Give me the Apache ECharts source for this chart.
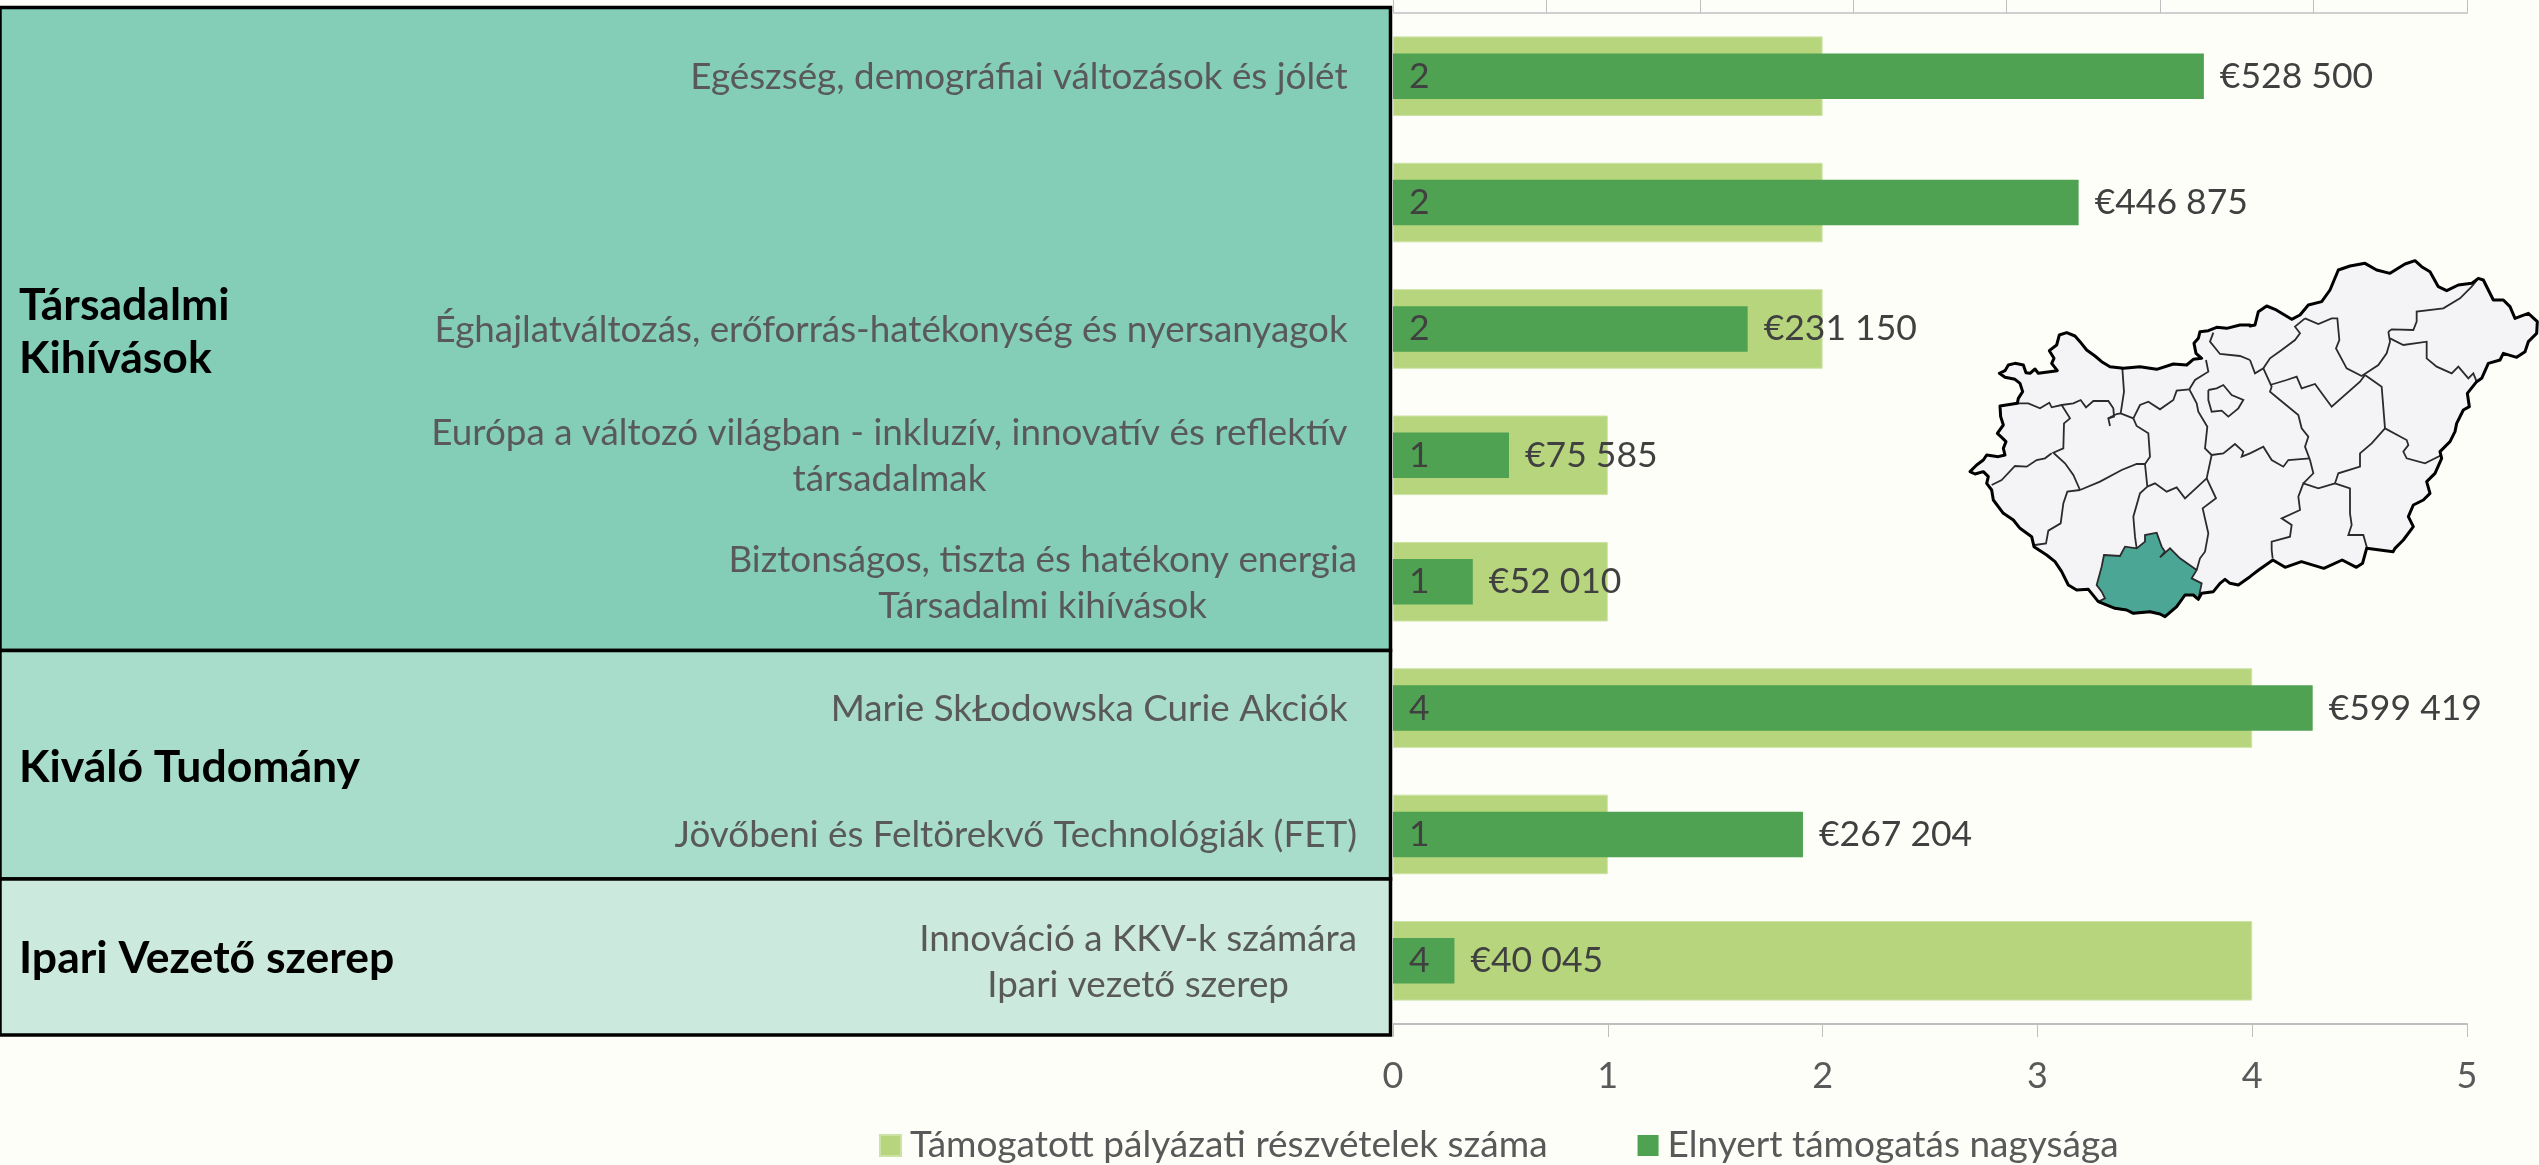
<!DOCTYPE html>
<html>
<head>
<meta charset="utf-8">
<title>Támogatott pályázati részvételek</title>
<script src="https://cdn.jsdelivr.net/npm/echarts@6/dist/echarts.min.js"></script>
<style>
  html, body { margin: 0; padding: 0; background: #fdfef8; }
  #chart { width: 2539px; height: 1165px; }
</style>
</head>
<body>
<div id="chart"></div>
<script>
const categories = [
  'Egészség, demográfiai változások és jólét ',
  '',
  'Éghajlatváltozás, erőforrás-hatékonység és nyersanyagok ',
  'Európa a változó világban - inkluzív, innovatív és reflektív \ntársadalmak ',
  'Biztonságos, tiszta és hatékony energia\nTársadalmi kihívások',
  'Marie SkŁodowska Curie Akciók ',
  'Jövőbeni és Feltörekvő Technológiák (FET)',
  'Innováció a KKV-k számára\nIpari vezető szerep'
];
const projectCounts = [2, 2, 2, 1, 1, 4, 1, 4];
const grantAmounts = [528500, 446875, 231150, 75585, 52010, 599419, 267204, 40045];
const countTicks = [0, 1, 2, 3, 4, 5];
const countName = 'Támogatott pályázati részvételek száma';
const grantName = 'Elnyert támogatás nagysága';

const fontName = 'Lato';

function fromCrop(points, left, top, scaleX, scaleY) {
  return points.map(p => [left + p[0] / scaleX, top + p[1] / scaleY]);
}
const west = pts => fromCrop(pts, 1960, 320, 3, 3);
const east = pts => fromCrop(pts, 2250, 250, 3, 3);
const wide = pts => fromCrop(pts, 1900, 230, 2.4538, 3);

const outlineWest = [[870,15],[840,15],[800,25],[770,22],[745,32],[720,35],[715,55],[702,70],[708,100],[725,115],[700,118],[680,135],[640,132],[590,148],[540,140],[490,145],[450,140],[425,125],[405,108],[380,90],[360,65],[345,48],[320,38],[298,45],[290,75],[268,92],[282,115],[275,130],[292,152],[235,160],[225,147],[210,160],[198,158],[190,135],[165,130],[145,135],[135,152],[118,160],[135,172],[165,178],[180,190],[188,215],[175,235],[172,250],[120,258],[122,290],[130,315],[112,340],[125,352],[138,365],[130,385],[135,405],[115,410],[80,405],[70,420],[50,435],[30,455],[45,462],[70,455],[85,470],[80,490],[95,510],[100,540],[130,580],[160,600],[180,625],[215,650],[222,680],[260,705],[285,725],[305,755],[325,795],[350,810],[385,808],[415,845],[465,865],[500,870],[520,880],[570,875],[600,882],[615,890],[650,860],[675,825],[700,825],[715,838],[725,820],[760,815],[780,790],[795,778],[810,790],[835,795],[870,770]];
const outlineSouth = [[880,1020],[915,990],[945,1012],[985,995],[1040,1015],[1085,990],[1120,1012],[1135,1000],[1145,955],[1210,965]];
const outlineEast = [[435,895],[460,870],[490,830],[475,800],[490,765],[520,750],[540,730],[530,695],[555,670],[575,625],[570,605],[600,575],[615,545],[620,520],[640,480],[658,470],[652,430],[680,395],[695,385],[715,340],[750,330],[760,310],[800,322],[825,305],[835,275],[860,250],[862,215],[835,190],[795,205],[780,170],[760,150],[730,150],[700,90],[685,85],[665,100],[625,105],[590,122],[565,110],[540,65],[515,50],[495,32],[465,42],[420,70],[380,60],[345,40],[300,48],[265,60],[240,120],[215,155],[175,165],[150,195],[125,208],[95,190],[75,178],[50,168],[25,185],[15,225],[0,228]];

const baranya = [[432,705],[480,708],[495,680],[530,685],[555,665],[555,645],[590,638],[605,680],[615,695],[600,712],[630,685],[660,715],[710,750],[695,775],[725,790],[715,838],[700,825],[675,825],[650,860],[615,890],[600,882],[570,875],[520,880],[500,870],[465,865],[415,845],[435,835],[425,815],[410,795],[425,740]];
const budapest = [[745,210],[770,205],[790,195],[815,225],[850,240],[835,265],[805,290],[785,272],[755,275],[745,240],[745,210]];

const linesWest = [
  [[172,250],[205,250],[240,265],[268,248],[275,262],[305,255],[340,250],[362,240],[378,262],[400,243],[445,243],[460,265],[462,290],[445,295],[450,318]],
  [[445,295],[470,282],[482,280]],
  [[487,145],[492,215],[482,280],[520,295]],
  [[520,295],[540,255],[565,245],[600,268],[640,240],[650,212],[688,208]],
  [[688,208],[705,180],[745,155],[738,120]],
  [[688,208],[710,250],[715,275],[742,320],[735,385],[755,405]],
  [[520,295],[530,318],[565,340],[570,410],[555,432],[562,500]],
  [[305,255],[330,295],[312,310],[310,385],[280,398],[315,430],[340,465],[360,510]],
  [[95,495],[125,480],[165,438],[200,440],[230,420],[255,415],[275,400]],
  [[360,510],[420,485],[485,450],[530,432],[555,432]],
  [[360,510],[322,515],[310,550],[302,610],[265,632],[258,670],[225,675]],
  [[562,500],[585,490],[620,515],[650,502],[675,535],[740,475],[755,405]],
  [[562,500],[540,520],[520,590],[525,650],[530,685]],
  [[740,475],[768,535],[728,565],[745,640],[735,695],[720,715],[710,750]],
  [[755,405],[790,400],[825,372],[850,395],[845,410],[870,400]],
  [[760,38],[750,65],[780,102],[840,108],[870,120]],
  budapest
];
const linesEast = [
  [[0,330],[15,370],[40,355],[60,325],[95,300],[135,270],[150,250],[135,230],[165,205]],
  [[40,355],[65,410],[60,425],[90,450],[145,495],[155,535],[175,560],[165,590],[180,630],[190,670],[160,700]],
  [[60,405],[110,390],[140,380],[155,415],[195,402],[245,470],[330,395],[345,375]],
  [[165,205],[205,222],[245,205],[262,205],[268,270],[258,295],[290,355],[335,378],[385,345],[410,310],[420,275],[415,245]],
  [[420,265],[460,285],[530,275],[530,325],[560,350],[605,370],[625,350],[655,385],[670,370],[680,395]],
  [[415,245],[425,238],[490,240],[500,215],[500,185],[580,175],[630,145],[665,110],[685,85]],
  [[345,375],[395,410],[405,535],[470,570],[475,585],[460,605],[470,625],[525,640],[575,615]],
  [[405,535],[365,580],[330,610],[330,650],[265,670],[255,700],[300,715],[300,790],[305,825],[295,855],[340,855],[350,890],[350,898]],
  [[255,700],[205,715],[160,700],[145,740],[150,780],[95,805],[125,825],[120,860],[65,875],[65,900],[68,925]],
  [[0,610],[40,590],[65,630],[100,650],[115,630],[180,625]]
];

const hungaryOutline = [].concat(west(outlineWest), wide(outlineSouth), east(outlineEast));

function box(y1, y2, color) {
  return {
    type: 'rect',
    z: -1,
    shape: { x: 0, y: y1, width: 1390.5, height: y2 - y1 },
    style: { fill: color, stroke: '#000', lineWidth: 3.5 }
  };
}

function groupLabel(text, y) {
  return {
    type: 'text',
    z: 5,
    x: 19,
    y: y,
    style: {
      text: text,
      fill: '#000',
      font: 'bold 44.5px ' + fontName,
      lineHeight: 53,
      textVerticalAlign: 'middle'
    }
  };
}

function countyLine(points) {
  return {
    type: 'polyline',
    z: 12,
    shape: { points: points },
    style: { fill: 'none', stroke: '#2b2b2b', lineWidth: 1.8 }
  };
}

const mapElements = [
  { type: 'polygon', z: 10, shape: { points: hungaryOutline }, style: { fill: '#f4f4f6', stroke: 'none' } },
  { type: 'polygon', z: 11, shape: { points: west(baranya) }, style: { fill: '#4ca695', stroke: '#2b2b2b', lineWidth: 1.8 } }
].concat(linesWest.map(l => countyLine(west(l))), linesEast.map(l => countyLine(east(l))), [
  { type: 'polygon', z: 13, shape: { points: hungaryOutline }, style: { fill: 'none', stroke: '#000', lineWidth: 3, lineJoin: 'round' } }
]);

const chart = echarts.init(document.getElementById('chart'));
chart.setOption({
  animation: false,
  backgroundColor: '#fdfef8',
  textStyle: { fontFamily: fontName },
  grid: { left: 1393, right: 72, top: 13, bottom: 141 },
  legend: {
    data: [countName, grantName],
    left: 874,
    top: 1122,
    itemWidth: 21,
    itemHeight: 21,
    itemGap: 90,
    selectedMode: false,
    icon: 'rect',
    textStyle: { fontFamily: fontName, fontSize: 37, color: '#595959', padding: [0, 0, 0, 4] }
  },
  xAxis: [
    {
      type: 'value',
      position: 'bottom',
      min: countTicks[0],
      max: countTicks[countTicks.length - 1],
      interval: 1,
      splitLine: { show: false },
      axisLine: { show: true, lineStyle: { color: '#bfbfbf', width: 2 } },
      axisTick: { show: true, length: 13, lineStyle: { color: '#bfbfbf', width: 1 } },
      axisLabel: { color: '#595959', fontSize: 36, margin: 34, fontFamily: fontName }
    },
    {
      type: 'value',
      position: 'top',
      min: 0,
      max: 700000,
      interval: 100000,
      splitLine: { show: false },
      axisLine: { show: true, lineStyle: { color: '#d0d0d0', width: 2 } },
      axisTick: { show: true, length: 13, lineStyle: { color: '#bfbfbf', width: 1 } },
      axisLabel: { show: false }
    }
  ],
  yAxis: [
    {
      type: 'category',
      data: categories,
      inverse: true,
      axisLine: { show: false },
      axisTick: { show: false },
      axisLabel: {
        interval: 0,
        margin: 36,
        formatter: value => value ? value.split('\n').map(line => '{c|' + line + '}').join('\n') : '',
        rich: {
          c: { align: 'center', fontFamily: fontName, fontSize: 36.8, lineHeight: 46, color: '#595959', padding: [2, 0, 0, 0] }
        }
      }
    },
    {
      type: 'category',
      data: categories,
      inverse: true,
      show: false
    }
  ],
  graphic: [
    box(7.5, 650.5, '#84ceb7'),
    box(650.5, 879, '#a8ddcb'),
    box(879, 1035, '#cce9de'),
    groupLabel('Társadalmi\nKihívások', 332),
    groupLabel('Kiváló Tudomány', 768),
    groupLabel('Ipari Vezető szerep', 959)
  ].concat(mapElements),
  series: [
    {
      name: countName,
      type: 'bar',
      xAxisIndex: 0,
      yAxisIndex: 0,
      data: projectCounts,
      barWidth: '63%',
      z: 2,
      itemStyle: { color: '#b6d57c', borderColor: '#cde3a6', borderWidth: 1 }
    },
    {
      name: grantName,
      type: 'bar',
      xAxisIndex: 1,
      yAxisIndex: 1,
      data: grantAmounts,
      barWidth: '36%',
      z: 3,
      itemStyle: { color: '#4ea252' },
      label: {
        show: true,
        position: 'right',
        distance: 16,
        color: '#404040',
        fontFamily: fontName,
        fontSize: 35.5,
        padding: [3, 0, 0, 0],
        formatter: p => '€' + String(p.value).replace(/\B(?=(\d{3})+$)/g, ' ')
      }
    },
    {
      // only carries the count labels above the dark bars
      name: 'count-labels',
      type: 'bar',
      xAxisIndex: 0,
      yAxisIndex: 0,
      data: projectCounts,
      barWidth: '63%',
      barGap: '-100%',
      z: 4,
      itemStyle: { color: 'transparent' },
      label: {
        show: true,
        position: 'insideLeft',
        distance: 16,
        color: '#404040',
        fontFamily: fontName,
        fontSize: 35.5,
        padding: [3, 0, 0, 0]
      }
    }
  ]
});
</script>
</body>
</html>
